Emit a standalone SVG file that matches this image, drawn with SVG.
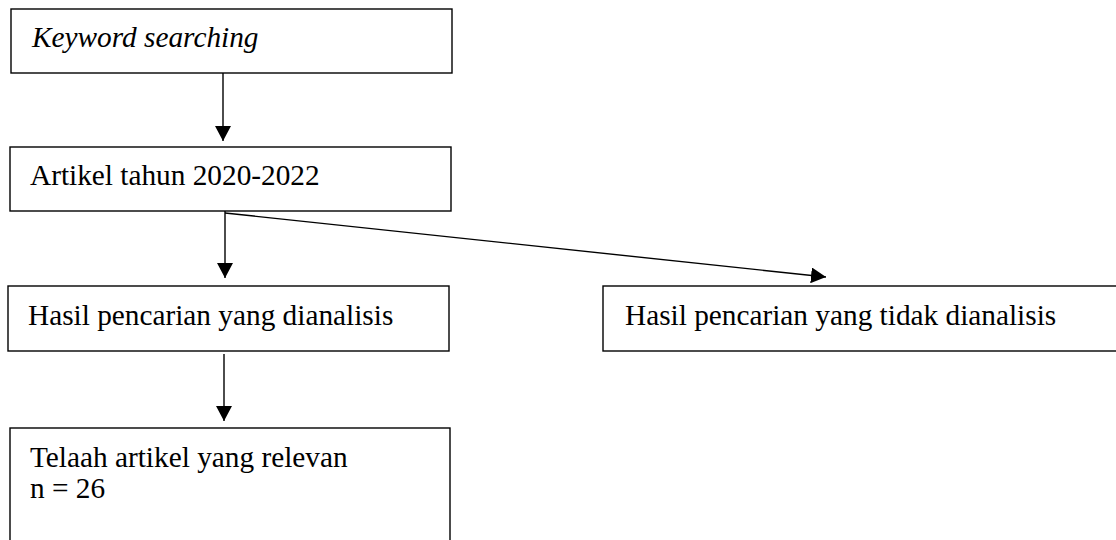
<svg xmlns="http://www.w3.org/2000/svg" width="1116" height="540" viewBox="0 0 1116 540">
<defs>
<style>
.box{fill:#fff;stroke:#000;stroke-width:1.4}
.t{font-family:"Liberation Serif","Times New Roman",serif;font-size:29.3px;fill:#000}
.c{stroke:#000;stroke-width:1.4;fill:none;marker-end:url(#ah)}
</style>
<marker id="ah" markerUnits="userSpaceOnUse" markerWidth="16" markerHeight="16" viewBox="0 0 16 16" refX="15" refY="8" orient="auto">
<path d="M0,0 L15,8 L0,16 Z" fill="#000"/>
</marker>
</defs>
<rect width="1116" height="540" fill="#fff"/>
<g id="n1"><rect class="box" x="11" y="9" width="441" height="64"/><text class="t" x="32" y="47" font-style="italic">Keyword searching</text></g>
<g id="n2"><rect class="box" x="10" y="147" width="441" height="64"/><text class="t" x="30" y="185">Artikel tahun 2020-2022</text></g>
<g id="n3"><rect class="box" x="8" y="286" width="441" height="65"/><text class="t" x="28" y="325">Hasil pencarian yang dianalisis</text></g>
<g id="n4"><rect class="box" x="603" y="286" width="530" height="65"/><text class="t" x="625" y="325">Hasil pencarian yang tidak dianalisis</text></g>
<g id="n5"><rect class="box" x="10" y="428" width="440" height="130"/><text class="t" x="30" y="467">Telaah artikel yang relevan</text><text class="t" x="30" y="498">n = 26</text></g>
<g id="connectors">
<line class="c" x1="223" y1="73" x2="223" y2="141"/>
<line class="c" x1="225" y1="211" x2="225" y2="278"/>
<line class="c" x1="225" y1="213" x2="826" y2="277"/>
<line class="c" x1="224" y1="354" x2="224" y2="421"/>
</g>
</svg>
